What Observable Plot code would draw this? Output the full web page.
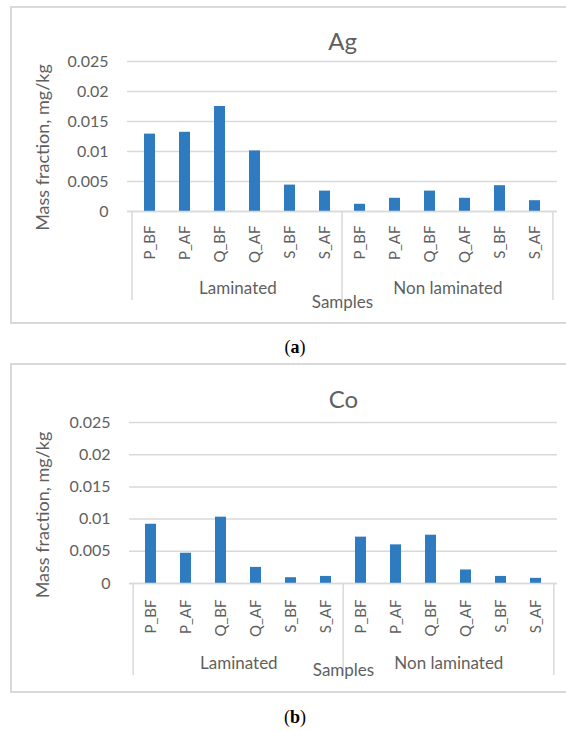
<!DOCTYPE html>
<html><head><meta charset="utf-8">
<script src="https://cdn.jsdelivr.net/npm/d3@7"></script>
<script src="https://cdn.jsdelivr.net/npm/@observablehq/plot@0.6"></script>
<style>
body{margin:0;background:#fff;width:566px;height:731px;overflow:hidden;position:relative;font-family:Lato,sans-serif}
.box{position:absolute;left:10px;width:600px;border:2px solid #d9d9d9;box-sizing:border-box}
.cap{position:absolute;left:0;width:590px;text-align:center;font-family:"Liberation Serif",serif;font-size:18px;line-height:20px;color:#000}
.chart{position:absolute;left:0}
</style></head><body>
<div class="box" style="top:6px;height:318px"></div>
<div id="a" class="chart" style="top:0px"></div>
<div class="cap" style="top:337px">(<b>a</b>)</div>
<div class="box" style="top:363px;height:330px"></div>
<div id="b" class="chart" style="top:357px"></div>
<div class="cap" style="top:707px">(<b>b</b>)</div>
<script>
const groups = ["Laminated", "Non laminated"];
const samples = ["P_BF", "P_AF", "Q_BF", "Q_AF", "S_BF", "S_AF"];
const agLaminated = [0.0129, 0.0132, 0.0175, 0.0101, 0.0044, 0.0034];
const agNonLaminated = [0.0012, 0.0022, 0.0034, 0.0022, 0.0043, 0.0018];
const coLaminated = [0.0092, 0.0047, 0.0103, 0.0025, 0.0009, 0.0011];
const coNonLaminated = [0.0072, 0.0060, 0.0075, 0.0021, 0.0011, 0.0008];
const yTicks = [0, 0.005, 0.01, 0.015, 0.02, 0.025];
const yTickLabels = ["0", "0.005", "0.01", "0.015", "0.02", "0.025"];
const yTitle = "Mass fraction, mg/kg";
const xTitle = "Samples";

function chart(o) {
  const rows = [];
  groups.forEach((g, gi) => samples.forEach((s, si) =>
    rows.push({key: g + "|" + s, group: g, sample: s, value: (gi ? o.non : o.lam)[si]})));
  const keys = rows.map(d => d.key);
  const width = 566;
  const step = (width - o.ml - o.mr) / keys.length;
  const grid = "#d9d9d9";
  return Plot.plot({
    width, height: o.height,
    marginTop: o.mt, marginBottom: o.mb, marginLeft: o.ml, marginRight: o.mr,
    style: {fontFamily: "Lato, sans-serif", color: "#5f5f5f", background: "transparent", overflow: "visible"},
    x: {domain: keys, paddingInner: 0.68, paddingOuter: 0.34, axis: null},
    y: {domain: [0, 0.025], axis: null},
    marks: [
      Plot.gridY(yTicks, {stroke: grid, strokeOpacity: 1, strokeWidth: 1.5}),
      Plot.axisY(yTicks, {tickSize: 0, tickPadding: 19, fontSize: 16, label: null,
        tickFormat: d => yTickLabels[yTicks.indexOf(d)]}),
      Plot.barY(rows, {x: "key", y: "value", fill: "#2e7bc0"}),
      Plot.ruleY([0], {stroke: grid, strokeWidth: 1.5}),
      Plot.axisX(keys, {tickSize: 0, tickPadding: o.tickPad, tickRotate: -90, fontSize: 15, label: null,
        tickFormat: k => k.split("|")[1]}),
      Plot.ruleX([keys[0], keys[6]], {x: d => d, y1: 0, y2: 0, insetBottom: -o.sepLen, dx: -step / 2, stroke: grid, strokeWidth: 1.5}),
      Plot.ruleX([keys[11]], {x: d => d, y1: 0, y2: 0, insetBottom: -o.sepLen, dx: step / 2, stroke: grid, strokeWidth: 1.5}),
      Plot.text(groups, {x: g => g + "|" + samples[2], dx: step / 2, frameAnchor: "bottom", dy: o.groupDy,
        lineAnchor: "middle", textAnchor: "middle", fontSize: 17}),
      Plot.text([xTitle], {frameAnchor: "bottom", dy: o.samplesDy, lineAnchor: "middle", textAnchor: "middle", fontSize: 17}),
      Plot.text([o.title], {frameAnchor: "top", dy: o.titleDy, lineAnchor: "middle", textAnchor: "middle", fontSize: 24}),
      Plot.text([yTitle], {frameAnchor: "left", dx: o.ylDx, dy: o.ylDy, rotate: -90, lineAnchor: "middle", textAnchor: "middle", fontSize: 18})
    ]
  });
}

document.getElementById("a").append(chart({
  title: "Ag", lam: agLaminated, non: agNonLaminated,
  height: 323, mt: 61, mb: 112, ml: 127, mr: 9,
  titleDy: -19, tickPad: 14, groupDy: 77, samplesDy: 91, sepLen: 89, ylDx: -84, ylDy: 11
}));
document.getElementById("b").append(chart({
  title: "Co", lam: coLaminated, non: coNonLaminated,
  height: 335, mt: 65, mb: 109, ml: 129, mr: 9,
  titleDy: -22, tickPad: 16, groupDy: 80, samplesDy: 87, sepLen: 92, ylDx: -86, ylDy: 12
}));
</script>
</body></html>
